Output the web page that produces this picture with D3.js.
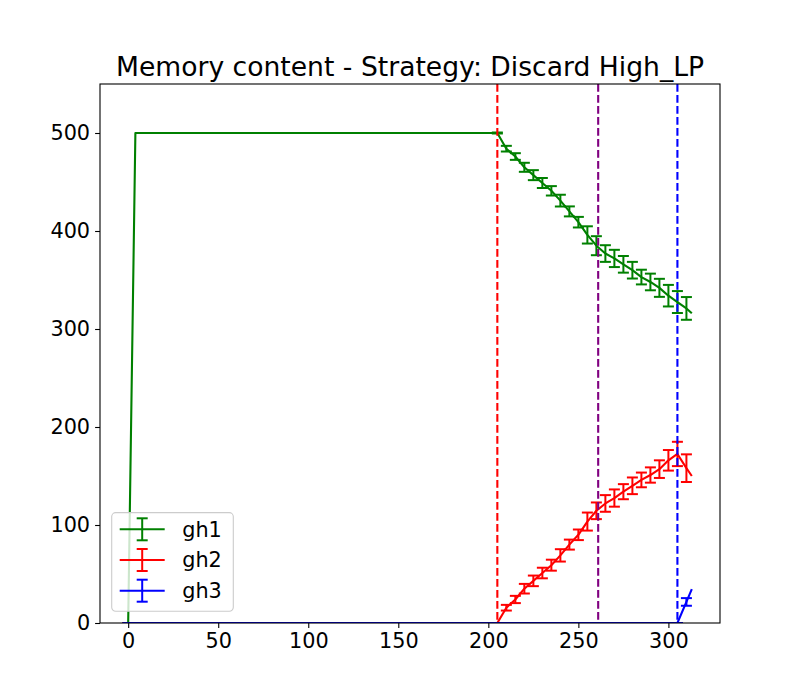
<!DOCTYPE html>
<html>
<head>
<meta charset="utf-8">
<script src="https://cdn.jsdelivr.net/npm/d3@7"></script>
<style>
	body { margin: 0; background: #fff; }
	svg { font-family: "DejaVu Sans", sans-serif; }
</style>
</head>
<body>
<svg id="chart" width="800" height="700"></svg>
<script>
// données (pas de 5, erreur = demi-barre)
const steps = [0, 4, 205, 210, 215, 220, 225, 230, 235, 240, 245, 250, 255, 260, 265, 270, 275, 280, 285, 290, 295, 300, 305, 310, 313];
const gh1 = [0, 500, 500, 484, 476, 465, 457, 449, 441, 431, 420, 409, 396, 385, 377, 372, 366, 360, 353, 348, 342, 334, 327.5, 321, 316];
const gh1_err = [0, null, 0.5, 2.9, 3.4, 4.6, 5.1, 5.1, 4.8, 6, 5.1, 5.4, 8.8, 9.7, 8.5, 8.8, 8.5, 8.5, 7.5, 8.5, 9.2, 11, 11.2, 11.6, null];
const gh2 = [0, 0, 0, 15.6, 24, 35, 43, 51, 59, 69, 80, 90, 103.5, 114.5, 122, 127.5, 134, 140, 146, 151, 157, 166, 172.5, 158, 150];
const gh2_err = [0, null, 0, 2.9, 3.7, 4.9, 5.4, 5.4, 5.6, 6.3, 5.1, 5.4, 9.2, 8.5, 8.5, 8.8, 7.7, 8.5, 7.5, 7.8, 9, 10.5, 12.4, 14.1, null];
const gh3 = [0, 0, 0, 0, 0, 0, 0, 0, 0, 0, 0, 0, 0, 0, 0, 0, 0, 0, 0, 0, 0, 0, 0, 21.5, 34.5];
const gh3_err = [0, null, 0, 0, 0, 0, 0, 0, 0, 0, 0, 0, 0, 0, 0, 0, 0, 0, 0, 0, 0, 0, 0, 3.9, null];
const series = [
	{name: "gh1", color: "green", values: gh1, err: gh1_err},
	{name: "gh2", color: "red", values: gh2, err: gh2_err},
	{name: "gh3", color: "blue", values: gh3, err: gh3_err},
];
// lignes verticales (changements de phase)
const phases = [{x: 205, color: "red"}, {x: 261, color: "purple"}, {x: 305, color: "blue"}];
const xTicks = [0, 50, 100, 150, 200, 250, 300];
const yTicks = [0, 100, 200, 300, 400, 500];
const yMax = 550;
const title = "Memory content - Strategy: Discard High_LP";

let svg = d3.select("#chart");
let margin = {top: 84, right: 80, bottom: 77, left: 100};
let width = 800, height = 700;

// marges de 5% comme matplotlib
let [x0, x1] = d3.extent(steps);
let pad = (x1 - x0) * 0.05;
let x = d3.scaleLinear()
	.domain([x0 - pad, x1 + pad])
	.range([margin.left, width - margin.right]);
let y = d3.scaleLinear()
	.domain([0, yMax])
	.range([height - margin.bottom, margin.top]);

svg.append("clipPath").attr("id", "clip")
	.append("rect")
	.attr("x", margin.left).attr("y", margin.top)
	.attr("width", width - margin.left - margin.right)
	.attr("height", height - margin.top - margin.bottom);

let plot = svg.append("g").attr("clip-path", "url(#clip)");
let line = d3.line().x(d => x(d[0])).y(d => y(d[1]));
let cap = 5.5;

for (let s of series) {
	let pts = steps.map((t, k) => [t, s.values[k], s.err[k]]);
	let g = plot.append("g")
		.attr("stroke", s.color)
		.attr("fill", "none");
	g.append("path")
		.attr("d", line(pts))
		.attr("stroke-width", 2.1)
		.attr("stroke-linejoin", "round");
	let eb = g.selectAll("g.eb")
		.data(pts.filter(d => d[2] !== null))
		.join("g")
		.attr("stroke-width", 2);
	eb.append("line")
		.attr("x1", d => x(d[0])).attr("x2", d => x(d[0]))
		.attr("y1", d => y(d[1] - d[2])).attr("y2", d => y(d[1] + d[2]));
	for (let sign of [-1, 1]) {
		eb.append("line")
			.attr("x1", d => x(d[0]) - cap).attr("x2", d => x(d[0]) + cap)
			.attr("y1", d => y(d[1] + sign * d[2])).attr("y2", d => y(d[1] + sign * d[2]));
	}
}

plot.selectAll("line.phase")
	.data(phases)
	.join("line")
	.attr("class", "phase")
	.attr("x1", d => x(d.x)).attr("x2", d => x(d.x))
	.attr("y1", margin.top).attr("y2", height - margin.bottom)
	.attr("stroke", d => d.color)
	.attr("stroke-width", 2.1)
	.attr("stroke-dasharray", "7.7,3.3");

// axes
let xAxis = svg.append("g")
	.attr("transform", `translate(0,${height - margin.bottom})`)
	.call(d3.axisBottom(x).tickValues(xTicks).tickSize(4.9).tickPadding(5).tickSizeOuter(0));
let yAxis = svg.append("g")
	.attr("transform", `translate(${margin.left},0)`)
	.call(d3.axisLeft(y).tickValues(yTicks).tickSize(4.9).tickPadding(5).tickSizeOuter(0));
for (let a of [xAxis, yAxis]) {
	a.select(".domain").remove();
	a.selectAll(".tick line").attr("stroke", "#000").attr("stroke-width", 1.1);
	a.selectAll(".tick text")
		.attr("fill", "#000")
		.style("font-size", "20.8px")
		.style("font-family", "DejaVu Sans");
}
xAxis.selectAll(".tick text").attr("dy", "0.72em");

svg.append("rect")
	.attr("x", margin.left).attr("y", margin.top)
	.attr("width", width - margin.left - margin.right)
	.attr("height", height - margin.top - margin.bottom)
	.attr("fill", "none")
	.attr("stroke", "#000")
	.attr("stroke-width", 1.1);

svg.append("text")
	.attr("x", (margin.left + width - margin.right) / 2)
	.attr("y", 76)
	.attr("text-anchor", "middle")
	.style("font-size", "26.6px")
	.text(title);

// légende
let leg = svg.append("g")
	.attr("transform", `translate(${margin.left + 11.7},${height - margin.bottom - 11.7})`);
leg.append("rect")
	.attr("x", 0).attr("y", -98.7)
	.attr("width", 121.6).attr("height", 98.7)
	.attr("rx", 4)
	.attr("fill", "#fff").attr("fill-opacity", 0.8)
	.attr("stroke", "#cccccc").attr("stroke-width", 1.1);
let item = leg.selectAll("g.item")
	.data(series)
	.join("g")
	.attr("transform", (d, k) => `translate(0,${-82 + k * 30.7})`)
	.attr("stroke", d => d.color);
item.append("line").attr("x1", 8).attr("x2", 53).attr("stroke-width", 2.1);
item.append("line").attr("x1", 30.5).attr("x2", 30.5).attr("y1", -11).attr("y2", 11).attr("stroke-width", 2);
item.append("line").attr("x1", 30.5 - cap).attr("x2", 30.5 + cap).attr("y1", -11).attr("y2", -11).attr("stroke-width", 2);
item.append("line").attr("x1", 30.5 - cap).attr("x2", 30.5 + cap).attr("y1", 11).attr("y2", 11).attr("stroke-width", 2);
item.append("text")
	.attr("x", 70.5)
	.attr("dy", "0.35em")
	.attr("stroke", "none")
	.attr("fill", "#000")
	.style("font-size", "20.8px")
	.text(d => d.name);
</script>
</body>
</html>
